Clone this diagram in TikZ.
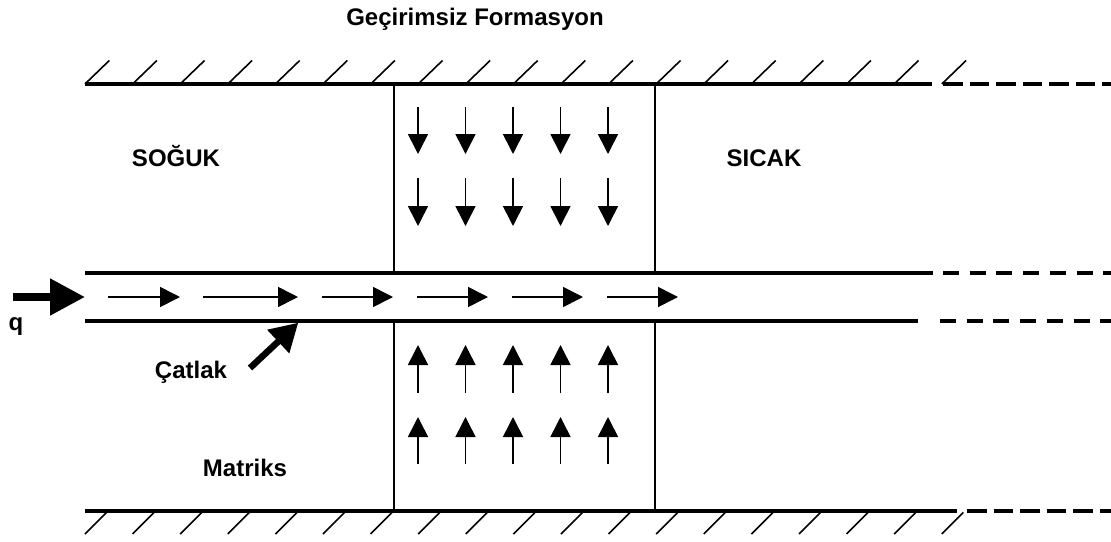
\documentclass[tikz,border=0pt]{standalone}
\usepackage{fontspec}
\setmainfont{Liberation Sans}
\usepackage{tikz}
\usetikzlibrary{arrows.meta,calc}

\begin{document}
\begin{tikzpicture}[
    x=1pt, y=-1pt,
    wall/.style={line width=3.3pt},
    wallext/.style={line width=3.3pt, dash pattern=on 19.5pt off 7pt},
    crack/.style={line width=4pt},
    crackext/.style={line width=4pt, dash pattern=on 16pt off 10.7pt},
    hatch/.style={line width=1.6pt},
    zone/.style={line width=1.8pt},
    flow/.style={-{Triangle[length=20pt,width=20pt]}, line width=1.6pt},
    lbl/.style={font=\fontsize{24}{28}\selectfont\bfseries, inner sep=0pt, anchor=base}
]
\useasboundingbox (0,0) rectangle (1111,541);

% labels
\node[lbl] (title) at (475,25) {Geçirimsiz Formasyon};
\node[lbl] (cold) at (176,166) {SOĞUK};
\node[lbl] (hot) at (764,166) {SICAK};
\node[lbl] (q) at (16,330) {q};
\node[lbl] (catlak) at (191,378) {Çatlak};
\node[lbl] (matrix) at (245,476) {Matriks};

% impermeable walls
\draw[wall] (85,84) -- (932,84);
\draw[wallext] (943,84) -- (1111,84);
\draw[wall] (85,511) -- (957,511);
\draw[wallext] (967,511) -- (1111,511);
\foreach \i in {0,...,18} {
    \draw[hatch] ({85+47.6*\i},84) -- ++(24.3,-23.5);
    \draw[hatch] ({85+47.6*\i},534) -- ++(21.5,-21.5);
}

% fracture
\draw[crack] (85,273) -- (933,273);
\draw[crackext] (943,273) -- (1111,273);
\draw[crack] (85,321) -- (918,321);
\draw[crackext] (940,321) -- (1111,321);

% heated zone
\draw[zone] (394,84) -- (394,273);
\draw[zone] (655,84) -- (655,273);
\draw[zone] (394,321) -- (394,511);
\draw[zone] (655,321) -- (655,511);

\foreach \x in {418,465.5,513,560.5,608} {
    \draw[flow] (\x,107) -- (\x,154);
    \draw[flow] (\x,178) -- (\x,226);
    \draw[flow] (\x,393) -- (\x,345);
    \draw[flow] (\x,464) -- (\x,417);
}
\foreach \a/\b in {108/180, 203/298, 322/393, 417/488, 512/583, 607/678}
    \draw[flow] (\a,297) -- (\b,297);

% injection and pointer
\coordinate (qin) at (13,297);
\coordinate (qout) at (85,297);
\draw[line width=8pt, -{Triangle[length=35pt,width=35pt]}] (qin) -- (qout);
\coordinate (crtail) at (250,368);
\coordinate (crtip) at (298.3,322.7);
\draw[line width=6.5pt, -{Triangle[length=27.6pt,width=30.6pt]}] (crtail) -- (crtip);

\end{tikzpicture}
\end{document}
